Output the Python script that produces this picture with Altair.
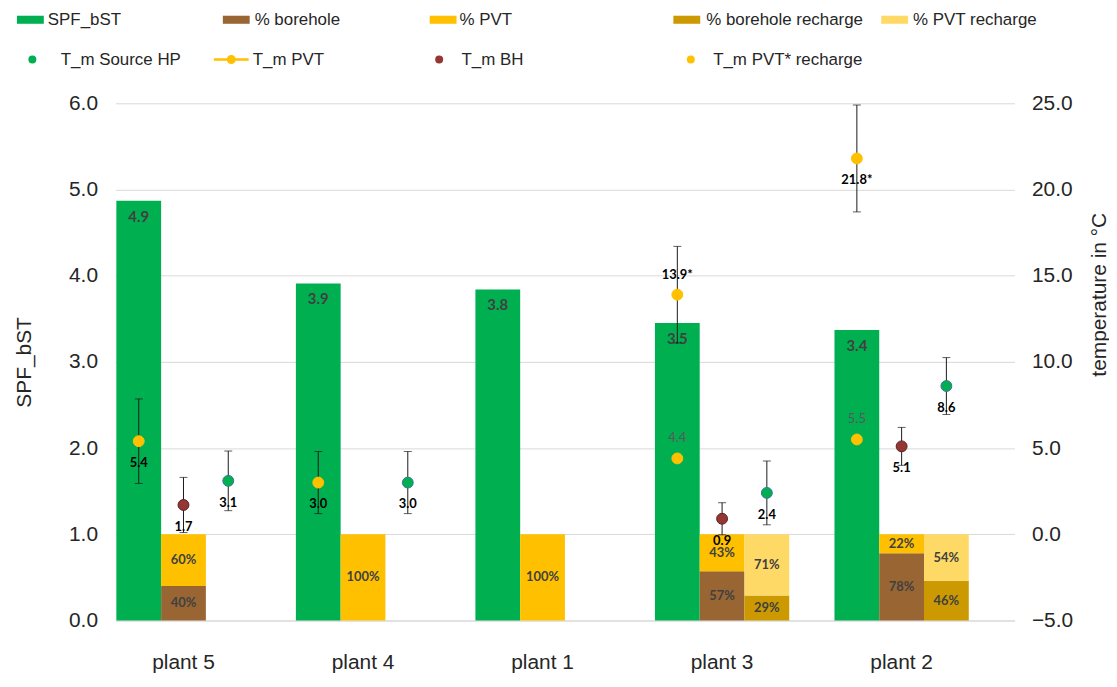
import altair as alt
import pandas as pd

# ---------------- data ----------------
plants = ["plant 5", "plant 4", "plant 1", "plant 3", "plant 2"]
spf = [4.87, 3.91, 3.84, 3.45, 3.37]
share_borehole = [0.40, 0.0, 0.0, 0.57, 0.78]
share_pvt = [0.60, 1.00, 1.00, 0.43, 0.22]
recharge_borehole = [None, None, None, 0.29, 0.46]
recharge_pvt = [None, None, None, 0.71, 0.54]

t_pvt = [5.4, 3.0, None, 4.4, 5.5]
t_pvt_err = [2.45, 1.8, None, None, None]
t_pvt_recharge = [None, None, None, 13.9, 21.8]
t_pvt_recharge_err = [None, None, None, 2.8, 3.1]
t_bh = [1.7, None, None, 0.9, 5.1]
t_bh_err = [1.6, None, None, 0.93, 1.1]
t_source = [3.1, 3.0, None, 2.4, 8.6]
t_source_err = [1.73, 1.8, None, 1.85, 1.65]

# labels drawn above their point (all others below); grey ones are not bold
labels_above = [("T_m PVT", "plant 3"), ("T_m PVT", "plant 2"), ("T_m PVT* recharge", "plant 3")]
labels_grey = [("T_m PVT", "plant 3"), ("T_m PVT", "plant 2")]

# ---------------- styles ----------------
FONT = "Liberation Sans"
LBLFONT = "Lato"
TXT = "#262626"
C_SPF = "#00B050"
C_BH = "#996633"
C_PVT = "#FFC000"
C_BH_R = "#CC9900"
C_PVT_R = "#FFD966"
C_TBH = "#943634"
C_TSRC = "#00B050"

RECT = "M-1,-0.3 L1,-0.3 L1,0.3 L-1,0.3 Z"
LINEDOT = ("M-1,-0.07 L1,-0.07 L1,0.07 L-1,0.07 Z "
           "M0.26,0 A0.26,0.26 0 1,1 -0.26,0 A0.26,0.26 0 1,1 0.26,0 Z")

# ---------------- tables ----------------
rows = []
for p, v in zip(plants, spf):
    rows.append(dict(plant=p, slot="a", component="SPF_bST", y0=0.0, y1=v))
for p, b, v in zip(plants, share_borehole, share_pvt):
    rows.append(dict(plant=p, slot="b", component="% borehole", y0=0.0, y1=b))
    rows.append(dict(plant=p, slot="b", component="% PVT", y0=b, y1=b + v))
for p, b, v in zip(plants, recharge_borehole, recharge_pvt):
    if b is None:
        continue
    rows.append(dict(plant=p, slot="c", component="% borehole recharge", y0=0.0, y1=b))
    rows.append(dict(plant=p, slot="c", component="% PVT recharge", y0=b, y1=b + v))
bars = pd.DataFrame(rows)
bars = bars[bars.y1 - bars.y0 > 1e-9].copy()
bars["ymid"] = (bars.y0 + bars.y1) / 2
bars["pct"] = ((bars.y1 - bars.y0) * 100).round().astype(int).astype(str) + "%"

series = [
    ("T_m PVT", t_pvt, t_pvt_err, "a", ""),
    ("T_m PVT* recharge", t_pvt_recharge, t_pvt_recharge_err, "a", "*"),
    ("T_m BH", t_bh, t_bh_err, "b", ""),
    ("T_m Source HP", t_source, t_source_err, "c", ""),
]
trows = []
for name, vals, errs, slot, suf in series:
    for p, v, e in zip(plants, vals, errs):
        if v is None:
            continue
        trows.append(dict(plant=p, series=name, slot=slot, t=v,
                          lo=(v - e) if e is not None else None,
                          hi=(v + e) if e is not None else None,
                          label=f"{v:.1f}{suf}",
                          above=(name, p) in labels_above,
                          grey=(name, p) in labels_grey))
temps = pd.DataFrame(trows)

# ---------------- encodings ----------------
x_scale = alt.Scale(domain=plants, paddingInner=0.252, paddingOuter=0.13, align=0.02)
x_axis = alt.Axis(title=None, labelFont=FONT, labelFontSize=21, labelColor=TXT,
                  labelPadding=31, ticks=False, domain=True, domainColor="#D9D9D9",
                  grid=False, labelAngle=0)
X = alt.X("plant:N", sort=plants, scale=x_scale, axis=x_axis)
XO = alt.XOffset("slot:N", scale=alt.Scale(domain=["a", "b", "c"], paddingInner=0, paddingOuter=0))

left_scale = alt.Scale(domain=[0, 6], nice=False, zero=False)
left_axis = alt.Axis(title="SPF_bST", values=[0, 1, 2, 3, 4, 5, 6], format=".1f",
                     grid=True, gridColor="#D9D9D9", domain=False, ticks=False,
                     labelPadding=18, labelFont=FONT, labelFontSize=21, labelColor=TXT,
                     titleFont=FONT, titleFontSize=21, titleFontWeight="normal", titleColor=TXT,
                     titleAngle=270, titleX=-91, titleY=260, titleAlign="center",
                     titleBaseline="middle")
right_scale = alt.Scale(domain=[-5, 25], nice=False, zero=False)
right_axis = alt.Axis(orient="right", title="temperature in °C",
                      values=[-5, 0, 5, 10, 15, 20, 25], format=".1f",
                      grid=False, domain=False, ticks=False,
                      labelPadding=17, labelFont=FONT, labelFontSize=21, labelColor=TXT,
                      titleFont=FONT, titleFontSize=21, titleFontWeight="normal", titleColor=TXT,
                      titleAngle=270, titleX=85, titleY=192, titleAlign="center",
                      titleBaseline="middle")


def legend(lx, ly, sym, size, loff):
    return alt.Legend(title=None, orient="none", legendX=lx, legendY=ly, padding=0,
                      symbolType=sym, symbolSize=size, symbolStrokeWidth=0,
                      symbolOpacity=1, labelFont=FONT, labelFontSize=17,
                      labelColor=TXT, labelOffset=loff)


bar_specs = [
    ("SPF_bST", C_SPF, -99, -97.5, 4),
    ("% borehole", C_BH, 108, -97.5, 5),
    ("% PVT", C_PVT, 316, -97.5, 3),
    ("% borehole recharge", C_BH_R, 561, -97.5, 6),
    ("% PVT recharge", C_PVT_R, 770, -97.5, 5),
]
left_layers = []
for name, col, lx, ly, loff in bar_specs:
    left_layers.append(
        alt.Chart(bars[bars.component == name]).mark_bar().encode(
            x=X, xOffset=XO,
            y=alt.Y("y1:Q", scale=left_scale, axis=left_axis),
            y2="y0:Q",
            fill=alt.Fill("component:N", scale=alt.Scale(domain=[name], range=[col]),
                          legend=legend(lx, ly, RECT, 729, loff)),
        )
    )

spf_text = alt.Chart(bars[bars.component == "SPF_bST"]).mark_text(
    font=LBLFONT, fontWeight="bold", fontSize=15, color="#404040", baseline="middle", dy=16
).encode(x=X, xOffset=XO, y=alt.Y("y1:Q", scale=left_scale, axis=left_axis),
         text=alt.Text("y1:Q", format=".1f"))
pct_text = alt.Chart(bars[bars.component != "SPF_bST"]).mark_text(
    font=LBLFONT, fontWeight="bold", fontSize=13, color="#404040", baseline="middle"
).encode(x=X, xOffset=XO, y=alt.Y("ymid:Q", scale=left_scale, axis=left_axis), text="pct:N")
left_layers += [spf_text, pct_text]
left = alt.layer(*left_layers).resolve_scale(fill="independent")

# right (temperature) group
YT = alt.Y("t:Q", scale=right_scale, axis=right_axis)
errs = temps[temps.lo.notna()]
err_rule = alt.Chart(errs).mark_rule(color="#1a1a1a", strokeWidth=1).encode(
    x=X, xOffset=XO, y=alt.Y("lo:Q", scale=right_scale, axis=right_axis), y2="hi:Q")
cap_lo = alt.Chart(errs).mark_tick(color="#1a1a1a", thickness=1, size=8, orient="horizontal").encode(
    x=X, xOffset=XO, y=alt.Y("lo:Q", scale=right_scale, axis=right_axis))
cap_hi = alt.Chart(errs).mark_tick(color="#1a1a1a", thickness=1, size=8, orient="horizontal").encode(
    x=X, xOffset=XO, y=alt.Y("hi:Q", scale=right_scale, axis=right_axis))

point_specs = [
    ("T_m Source HP", C_TSRC, "#41719C", -92, -52.5, "circle", 64, 20),
    ("T_m PVT", C_PVT, C_PVT, 99, -61.5, LINEDOT, 1225, 4),
    ("T_m BH", C_TBH, "#5a2020", 317, -52.5, "circle", 64, 14),
    ("T_m PVT* recharge", C_PVT, C_PVT, 570, -52.5, "circle", 64, 14),
]
right_layers = [err_rule, cap_lo, cap_hi]
for name, col, stroke, lx, ly, sym, size, loff in point_specs:
    right_layers.append(
        alt.Chart(temps[temps.series == name]).mark_circle(
            size=120, opacity=1, stroke=stroke, strokeWidth=1
        ).encode(
            x=X, xOffset=XO, y=YT,
            color=alt.Color("series:N", scale=alt.Scale(domain=[name], range=[col]),
                            legend=legend(lx, ly, sym, size, loff)),
        )
    )

below = temps[~temps.above]
above_bold = temps[temps.above & ~temps.grey]
above_grey = temps[temps.above & temps.grey]
t_below = alt.Chart(below).mark_text(
    font=LBLFONT, fontWeight="bold", fontSize=13, color="#000000", baseline="middle", dy=22
).encode(x=X, xOffset=XO, y=YT, text="label:N")
t_above = alt.Chart(above_bold).mark_text(
    font=LBLFONT, fontWeight="bold", fontSize=13, color="#000000", baseline="middle", dy=-20
).encode(x=X, xOffset=XO, y=YT, text="label:N")
t_grey = alt.Chart(above_grey).mark_text(
    font=LBLFONT, fontSize=13, color="#595959", baseline="middle", dy=-21
).encode(x=X, xOffset=XO, y=YT, text="label:N")
right_layers += [t_below, t_above, t_grey]
right = alt.layer(*right_layers).resolve_scale(color="independent")

chart = alt.layer(left, right).resolve_scale(
    y="independent", fill="independent", color="independent"
).properties(
    width=904, height=520,
    padding={"left": 108, "top": 94, "right": 95, "bottom": 52},
    autosize=alt.AutoSizeParams(type="none"),
    background="white",
).configure_view(stroke=None)

chart.save("out.html", embed_options={"renderer": "svg", "actions": False})
